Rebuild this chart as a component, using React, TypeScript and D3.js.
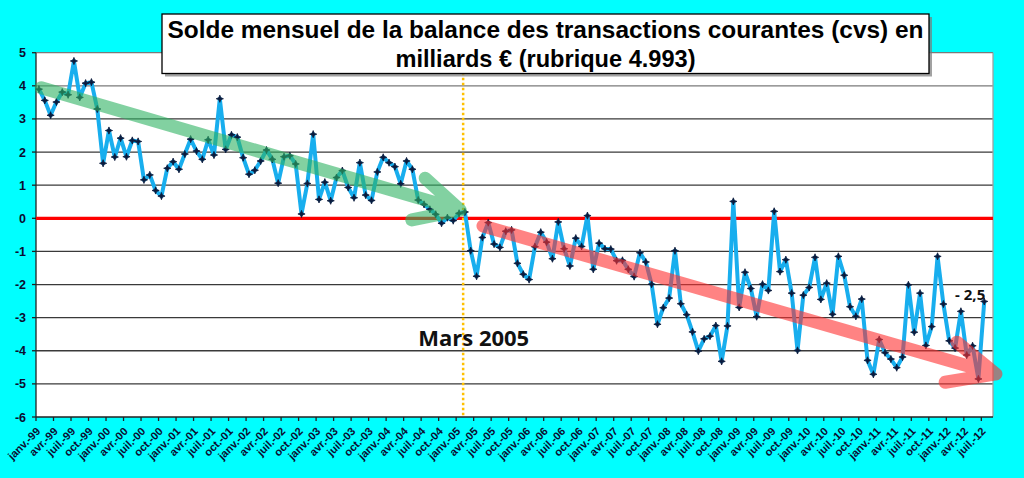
import { useEffect, useRef } from 'react';
import * as d3 from 'd3';

// categories: janv.-99 .. août-12 (the last month has no value)
const monthNames = ['janv.', 'févr.', 'mars', 'avr.', 'mai', 'juin', 'juil.', 'août', 'sept.', 'oct.', 'nov.', 'déc.'];
const yearLabels = ['99', '00', '01', '02', '03', '04', '05', '06', '07', '08', '09', '10', '11', '12'];
const categories = yearLabels.flatMap(y => monthNames.map(m => `${m}-${y}`)).slice(0, 164);

// solde mensuel, milliards €
const soldes = [
  3.90, 3.56, 3.11, 3.51, 3.81, 3.73, 4.75, 3.65, 4.08, 4.11, 3.30, 1.66,
  2.65, 1.85, 2.42, 1.86, 2.35, 2.32, 1.16, 1.31, 0.84, 0.67, 1.51, 1.71,
  1.48, 1.94, 2.39, 2.03, 1.78, 2.37, 1.91, 3.61, 2.08, 2.52, 2.45, 1.83,
  1.33, 1.45, 1.73, 2.06, 1.78, 1.06, 1.86, 1.89, 1.64, 0.13, 1.05, 2.54,
  0.57, 1.09, 0.53, 1.23, 1.44, 0.93, 0.62, 1.68, 0.70, 0.54, 1.40, 1.84,
  1.68, 1.56, 1.04, 1.73, 1.48, 0.55, 0.42, 0.27, 0.12, -0.15, 0.02, -0.07,
  0.15, 0.19, -0.98, -1.75, -0.58, -0.13, -0.78, -0.88, -0.39, -0.35, -1.36, -1.69,
  -1.85, -0.86, -0.42, -0.72, -1.22, -0.11, -0.92, -1.44, -0.60, -0.85, 0.08, -1.54,
  -0.75, -0.92, -0.93, -1.28, -1.27, -1.54, -1.76, -1.04, -1.32, -1.99, -3.20, -2.70,
  -2.41, -0.98, -2.58, -2.91, -3.43, -4.01, -3.64, -3.56, -3.24, -4.32, -3.25, 0.51,
  -2.69, -1.63, -2.12, -2.97, -1.99, -2.18, 0.21, -1.61, -1.25, -2.26, -3.99, -2.32,
  -2.09, -1.18, -2.45, -1.96, -2.90, -1.15, -1.72, -2.67, -2.96, -2.44, -4.29, -4.71,
  -3.66, -4.06, -4.25, -4.51, -4.19, -2.01, -3.44, -2.26, -3.84, -3.27, -1.15, -2.59,
  -3.70, -3.92, -2.81, -4.13, -3.85, -4.85, -2.51,
];

const yTicks = [5, 4, 3, 2, 1, 0, -1, -2, -3, -4, -5, -6];
const titleLines = ['Solde mensuel de la balance des transactions courantes (cvs) en', 'milliards € (rubrique 4.993)'];

// hand drawn trend arrows, in (month index, value)
const greenArrow = { start: [0.4, 3.94], tip: [72.2, 0.25], arms: [[66.2, 1.21], [63.9, -0.05]] };
const redArrow = { start: [76.1, -0.23], tip: [164.0, -4.70], arms: [[157.3, -3.74], [155.3, -4.95]] };
const marsIndex = 73 - 0.3;
const marsLabel = { i: 65, v: -3.86, text: 'Mars 2005' };
const lastLabel = { i: 157, v: -2.47, text: '- 2,5' };

export default function App() {
  const svgRef = useRef<SVGSVGElement | null>(null);

  useEffect(() => {
    if (!svgRef.current) return;
    const width = 1024;
    const height = 478;
    const margin = { top: 52.7, right: 31, bottom: 61, left: 36 };

    const svg = d3.select(svgRef.current);
    svg.selectAll('*').remove();
    svg.attr('width', width).attr('height', height);

    svg.append('rect').attr('width', width).attr('height', height).attr('fill', '#00ffff');

    const x = d3.scaleBand<string>()
      .domain(categories)
      .range([margin.left, width - margin.right])
      .paddingInner(0)
      .paddingOuter(0);
    // continuous version: category i centred on i
    const xc = d3.scaleLinear()
      .domain([-0.5, categories.length - 0.5])
      .range([margin.left, width - margin.right]);
    const y = d3.scaleLinear().domain([-6, 5]).range([height - margin.bottom, margin.top]);

    // plot area
    svg.append('rect')
      .attr('x', margin.left)
      .attr('y', margin.top)
      .attr('width', width - margin.right - margin.left)
      .attr('height', y(-6) - margin.top)
      .attr('fill', '#ffffff');

    // gridlines
    const grid = svg.append('g');
    grid.selectAll('line')
      .data(yTicks.filter(t => t !== 0 && t !== -6))
      .enter()
      .append('line')
      .attr('x1', margin.left)
      .attr('x2', width - margin.right)
      .attr('y1', d => y(d))
      .attr('y2', d => y(d))
      .attr('stroke', d => (d >= 4 ? '#7a7a7a' : '#3a3a3a'))
      .attr('stroke-width', 1.3);

    // right border of the plot area
    svg.append('line')
      .attr('x1', width - margin.right).attr('x2', width - margin.right)
      .attr('y1', margin.top).attr('y2', y(-6))
      .attr('stroke', '#a0a0a0').attr('stroke-width', 1.3);

    // y axis
    const yAxisG = svg.append('g');
    yAxisG.append('line')
      .attr('x1', margin.left).attr('x2', margin.left)
      .attr('y1', margin.top).attr('y2', y(-6))
      .attr('stroke', '#222').attr('stroke-width', 1.3);
    yAxisG.selectAll('line.tick')
      .data(yTicks)
      .enter()
      .append('line')
      .classed('tick', true)
      .attr('x1', margin.left - 4).attr('x2', margin.left)
      .attr('y1', d => y(d)).attr('y2', d => y(d))
      .attr('stroke', '#222').attr('stroke-width', 1.3);
    yAxisG.selectAll('text')
      .data(yTicks)
      .enter()
      .append('text')
      .attr('x', margin.left - 10)
      .attr('y', d => y(d))
      .attr('dy', '0.36em')
      .attr('text-anchor', 'end')
      .attr('font-family', 'Liberation Sans, Arial, sans-serif')
      .attr('font-weight', 'bold')
      .attr('font-size', '12.5px')
      .attr('fill', '#0c0c30')
      .text(d => d);

    // x axis
    const xAxisG = svg.append('g');
    xAxisG.append('line')
      .attr('x1', margin.left).attr('x2', width - margin.right)
      .attr('y1', y(-6)).attr('y2', y(-6))
      .attr('stroke', '#222').attr('stroke-width', 1.3);
    const shown = categories.filter((_, i) => i % 3 === 0);
    xAxisG.selectAll('line.tick')
      .data(shown)
      .enter()
      .append('line')
      .classed('tick', true)
      .attr('x1', d => x(d)!).attr('x2', d => x(d)!)
      .attr('y1', y(-6)).attr('y2', y(-6) + 4)
      .attr('stroke', '#222').attr('stroke-width', 1.3);
    xAxisG.selectAll('text')
      .data(shown)
      .enter()
      .append('text')
      .attr('transform', d => `translate(${x(d)! + 5},${y(-6) + 15}) rotate(-45)`)
      .attr('text-anchor', 'end')
      .attr('font-family', 'Liberation Sans, Arial, sans-serif')
      .attr('font-weight', 'bold')
      .attr('font-size', '11px')
      .attr('fill', '#0c0c30')
      .text(d => d);

    // zero line
    svg.append('line')
      .attr('x1', margin.left).attr('x2', width - margin.right)
      .attr('y1', y(0)).attr('y2', y(0))
      .attr('stroke', '#ff0000').attr('stroke-width', 3.2);

    // dotted marker line
    svg.append('line')
      .attr('x1', xc(marsIndex)).attr('x2', xc(marsIndex))
      .attr('y1', margin.top).attr('y2', y(-6))
      .attr('stroke', '#ffc000').attr('stroke-width', 2.5)
      .attr('stroke-dasharray', '2.5,2.5');

    // series
    const line = d3.line<number>()
      .x((_, i) => x(categories[i])! + x.bandwidth() / 2)
      .y(d => y(d));
    svg.append('path')
      .datum(soldes)
      .attr('d', line)
      .attr('fill', 'none')
      .attr('stroke', '#18aeee')
      .attr('stroke-width', 4)
      .attr('stroke-linejoin', 'round');

    const star = 'M0,-3.6L1,-1L3.6,0L1,1L0,3.6L-1,1L-3.6,0L-1,-1Z';
    svg.append('g')
      .selectAll('path')
      .data(soldes)
      .enter()
      .append('path')
      .attr('d', star)
      .attr('transform', (d, i) => `translate(${x(categories[i])! + x.bandwidth() / 2},${y(d)})`)
      .attr('fill', '#0b1a3c')
      .attr('stroke', '#0b1a3c')
      .attr('stroke-width', 0.8);

    // trend arrows
    function drawArrow(a: typeof greenArrow, colour: string, opacity: number) {
      const p = (q: number[]) => `${xc(q[0])},${y(q[1])}`;
      svg.append('g')
        .attr('opacity', opacity)
        .append('path')
        .attr('d', `M${p(a.start)}L${p(a.tip)}M${p(a.arms[0])}L${p(a.tip)}L${p(a.arms[1])}`)
        .attr('fill', 'none')
        .attr('stroke', colour)
        .attr('stroke-width', 13)
        .attr('stroke-linecap', 'round')
        .attr('stroke-linejoin', 'round');
    }
    drawArrow(greenArrow, '#2fb262', 0.6);
    drawArrow(redArrow, '#ff3030', 0.6);

    // annotations
    svg.append('text')
      .attr('x', xc(marsLabel.i)).attr('y', y(marsLabel.v))
      .attr('font-family', 'Open Sans, sans-serif')
      .attr('font-weight', 'bold')
      .attr('font-size', '22px')
      .attr('fill', '#111')
      .text(marsLabel.text);
    svg.append('text')
      .attr('x', xc(lastLabel.i)).attr('y', y(lastLabel.v))
      .attr('font-family', 'Open Sans, sans-serif')
      .attr('font-weight', 'bold')
      .attr('font-size', '15px')
      .attr('fill', '#111')
      .text(lastLabel.text);

    // title box
    const box = { x: 162, y: 14, w: 767, h: 59.5 };
    svg.append('rect')
      .attr('x', box.x + 3).attr('y', box.y + 3)
      .attr('width', box.w).attr('height', box.h)
      .attr('fill', '#7a7a7a').attr('opacity', 0.7);
    svg.append('rect')
      .attr('x', box.x).attr('y', box.y)
      .attr('width', box.w).attr('height', box.h)
      .attr('fill', '#ffffff').attr('stroke', '#000').attr('stroke-width', 1.3);
    const lens = [756, 300];
    svg.append('g')
      .selectAll('text')
      .data(titleLines)
      .enter()
      .append('text')
      .attr('x', box.x + box.w / 2)
      .attr('y', (_, i) => box.y + 24 + i * 28.5)
      .attr('text-anchor', 'middle')
      .attr('textLength', (_, i) => lens[i])
      .attr('lengthAdjust', 'spacingAndGlyphs')
      .attr('font-family', 'Liberation Sans, Arial, sans-serif')
      .attr('font-weight', 'bold')
      .attr('font-size', '24px')
      .attr('fill', '#000')
      .text(d => d);
  }, []);

  return (
    <svg
      ref={svgRef}
      width={1024}
      height={478}
      style={{ position: 'absolute', left: 0, top: 0, display: 'block' }}
    />
  );
}
